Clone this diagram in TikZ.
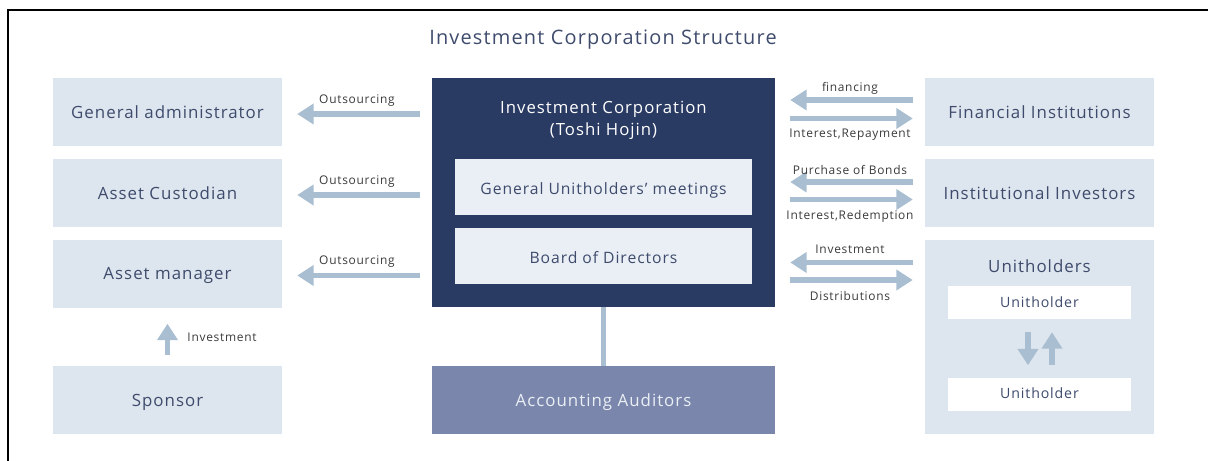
\documentclass[tikz,border=0pt]{standalone}
\usepackage{fontspec}
\setmainfont[LetterSpace=6]{Open Sans}
\usetikzlibrary{arrows.meta}

\definecolor{boxbg}{HTML}{DDE6EE}
\definecolor{flowc}{HTML}{A9BED0}
\definecolor{navy}{HTML}{293A63}
\definecolor{auditc}{HTML}{7A86AC}
\definecolor{inner}{HTML}{EAEFF5}
\definecolor{txt}{HTML}{3E4B6C}
\definecolor{lbl}{HTML}{3A3A3A}

\begin{document}
\begin{tikzpicture}[
    box/.style={fill=boxbg, minimum width=6.87cm, minimum height=2.04cm, text=txt, text height=11pt, text depth=0pt, font=\fontsize{14.4}{17}\selectfont},
    subbox/.style={fill=inner, minimum width=8.91cm, minimum height=1.68cm, text=txt, text height=13pt, text depth=0pt, font=\fontsize{13.4}{16}\selectfont},
    uhbox/.style={fill=white, minimum width=5.49cm, minimum height=0.99cm, text=txt, text height=8.5pt, text depth=0pt, font=\fontsize{12.1}{14}\selectfont},
    flow/.style={draw=flowc, line width=5pt, -{Triangle[width=17pt,length=14pt]}},
    flowlbl/.style={text=lbl, font=\fontsize{10.2}{12}\selectfont}
  ]
    \useasboundingbox (0,0) rectangle (36.24,-13.83);

    % frame
    \draw[line width=1.6pt] (0.24,-13.83) -- (0.24,-0.3) -- (36.24,-0.3);

    % title
    \node[text=txt, font=\fontsize{17}{20}\selectfont] (title) at (18.09,-1.2) {Investment Corporation Structure};

    % left column
    \node[box] (admin) at (5.025,-3.36) {General administrator};
    \node[box] (custodian) at (5.025,-5.79) {Asset Custodian};
    \node[box] (manager) at (5.025,-8.205) {Asset manager};
    \node[box] (sponsor) at (5.025,-12.0) {Sponsor};

    % investment corporation
    \node[fill=navy, minimum width=10.29cm, minimum height=6.87cm] (invcorp) at (18.105,-5.775) {};
    \node[text=white, align=center, font=\fontsize{14.3}{18.7}\selectfont] (invname) at (18.105,-3.62) {Investment Corporation\\(Toshi Hojin)};
    \node[subbox] (meeting) at (18.105,-5.61) {General Unitholders’ meetings};
    \node[subbox] (board) at (18.105,-7.68) {Board of Directors};
    \node[fill=auditc, minimum width=10.29cm, minimum height=2.04cm, text=inner, text height=11pt, text depth=0pt, font=\fontsize{14.4}{17}\selectfont] (auditors) at (18.105,-12.0) {Accounting Auditors};
    \draw[flowc, line width=5pt] (invcorp.south) -- (auditors.north);

    % right column
    \node[box] (fin) at (31.185,-3.36) {Financial Institutions};
    \node[box] (instinv) at (31.185,-5.79) {Institutional Investors};
    \node[box, minimum height=5.82cm] (unith) at (31.185,-10.11) {};
    \node[text=txt, font=\fontsize{14.4}{17}\selectfont] (unithname) at (31.185,-8.0) {Unitholders};
    \node[uhbox] (uhA) at (31.185,-9.075) {Unitholder};
    \node[uhbox] (uhB) at (31.185,-11.82) {Unitholder};
    \draw[flow, shorten <=0.39cm, shorten >=0.36cm] ([xshift=-0.345cm]uhA.south) -- ([xshift=-0.345cm]uhB.north);
    \draw[flow, shorten <=0.36cm, shorten >=0.39cm] ([xshift=0.375cm]uhB.north) -- ([xshift=0.375cm]uhA.south);

    % outsourcing
    \foreach \b in {admin,custodian,manager}
      \draw[flow, shorten <=0.36cm, shorten >=0.45cm] ([yshift=-0.06cm]invcorp.west |- \b) -- ([yshift=-0.06cm]\b.east)
        node[flowlbl, midway, yshift=0.41cm] (out-\b) {Outsourcing};

    % sponsor investment
    \draw[flow, shorten <=0.33cm, shorten >=0.48cm] (sponsor.north) -- (manager.south);
    \node[flowlbl, anchor=west] (spinv) at (5.5,-10.11) {Investment};

    % right side flows
    \draw[flow, shorten <=0.36cm, shorten >=0.45cm] ([yshift=0.36cm]fin.west) -- ([yshift=0.36cm]invcorp.east |- fin)
      node[flowlbl, midway, yshift=0.34cm] (finA) {financing};
    \draw[flow, shorten <=0.45cm, shorten >=0.36cm] ([yshift=-0.195cm]invcorp.east |- fin) -- ([yshift=-0.195cm]fin.west)
      node[flowlbl, midway, yshift=-0.5cm] (finB) {Interest,Repayment};

    \draw[flow, shorten <=0.36cm, shorten >=0.45cm] ([yshift=0.33cm]instinv.west) -- ([yshift=0.33cm]invcorp.east |- instinv)
      node[flowlbl, midway, yshift=0.37cm] (invA) {Purchase of Bonds};
    \draw[flow, shorten <=0.45cm, shorten >=0.36cm] ([yshift=-0.195cm]invcorp.east |- instinv) -- ([yshift=-0.195cm]instinv.west |- instinv)
      node[flowlbl, midway, yshift=-0.5cm] (invB) {Interest,Redemption};

    \draw[flow, shorten <=0.36cm, shorten >=0.45cm] ([yshift=0.33cm]unith.west |- manager) -- ([yshift=0.33cm]invcorp.east |- manager)
      node[flowlbl, midway, yshift=0.41cm] (uhinA) {Investment};
    \draw[flow, shorten <=0.45cm, shorten >=0.36cm] ([yshift=-0.195cm]invcorp.east |- manager) -- ([yshift=-0.195cm]unith.west |- manager)
      node[flowlbl, midway, yshift=-0.49cm] (uhinB) {Distributions};
\end{tikzpicture}
\end{document}
